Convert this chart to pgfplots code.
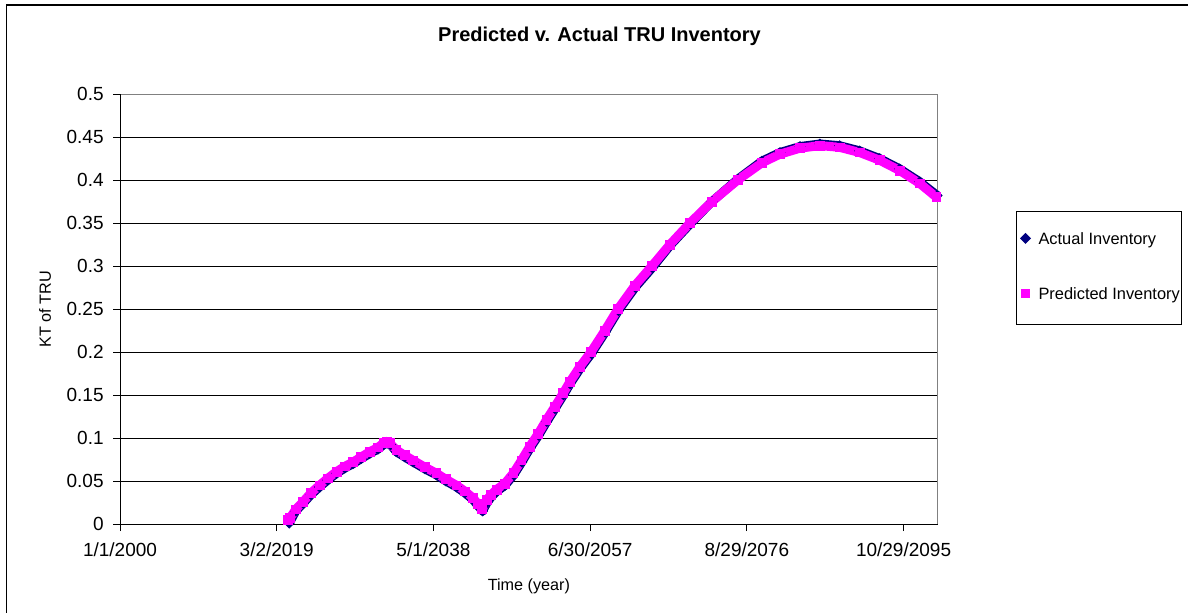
\documentclass[border=0pt]{standalone}
\usepackage{fontspec}
\setmainfont{Liberation Sans}
\usepackage{pgfplots}
\usepackage{pgfplotstable}
\pgfplotsset{compat=1.18}

\definecolor{actualnavy}{HTML}{000080}
\definecolor{predmagenta}{HTML}{FF00FF}

% decimal year, KT of TRU
\pgfplotstableread{
year inv
2020.70 0.001
2021.50 0.015
2022.40 0.024
2023.35 0.034
2024.40 0.043
2025.40 0.051
2026.50 0.059
2027.50 0.065
2028.50 0.070
2029.50 0.076
2030.55 0.082
2031.55 0.087
2032.20 0.092
2032.70 0.094
2033.10 0.092
2033.80 0.084
2034.80 0.078
2035.85 0.072
2037.30 0.064
2038.70 0.057
2039.85 0.050
2041.15 0.043
2042.20 0.036
2043.20 0.028
2043.80 0.021
2044.35 0.015
2044.90 0.025
2045.45 0.032
2046.10 0.038
2047.10 0.045
2048.15 0.057
2049.15 0.072
2050.15 0.088
2051.20 0.103
2052.20 0.119
2053.20 0.134
2054.25 0.150
2055.05 0.163
2056.30 0.181
2057.65 0.198
2059.35 0.223
2060.95 0.248
2063.00 0.275
2065.10 0.298
2067.30 0.324
2069.75 0.349
2072.40 0.375
2075.55 0.401
2078.50 0.422
2080.70 0.432
2083.15 0.439
2085.60 0.442
2088.00 0.440
2090.45 0.434
2092.90 0.425
2095.35 0.413
2097.80 0.398
2099.95 0.382
}\actual

\pgfplotstableread{
year inv
2020.55 0.005
2020.80 0.007
2021.50 0.017
2022.40 0.026
2023.35 0.036
2024.40 0.045
2025.40 0.053
2026.50 0.061
2027.50 0.067
2028.50 0.072
2029.50 0.078
2030.55 0.084
2031.55 0.089
2032.20 0.094
2032.60 0.096
2033.00 0.094
2033.80 0.086
2034.80 0.080
2035.85 0.074
2037.30 0.066
2038.70 0.059
2039.85 0.052
2041.15 0.045
2042.20 0.038
2043.20 0.030
2043.80 0.023
2044.30 0.017
2044.83 0.028
2045.40 0.034
2046.05 0.040
2047.05 0.047
2048.10 0.059
2049.10 0.074
2050.10 0.090
2051.15 0.105
2052.15 0.121
2053.15 0.136
2054.20 0.152
2055.00 0.165
2056.25 0.183
2057.60 0.200
2059.30 0.225
2060.90 0.250
2062.95 0.277
2065.05 0.300
2067.25 0.325
2069.70 0.350
2072.40 0.375
2075.55 0.400
2078.50 0.420
2080.70 0.430
2083.15 0.437
2085.60 0.440
2088.00 0.438
2090.45 0.432
2092.90 0.423
2095.35 0.411
2097.80 0.396
2099.85 0.380
}\predicted

\begin{document}
\begin{tikzpicture}
\useasboundingbox (0,0) rectangle (594pt,306pt);
% chart area frame (only its left and top edges fall inside the picture)
\draw[line width=0.8pt] (3.25pt,-5pt) -- (3.25pt,303.5pt) -- (605pt,303.5pt);
\begin{axis}[
    at={(60pt,44pt)}, anchor=south west,
    width=408.85pt, height=215pt, scale only axis,
    xmin=2000, xmax=2100,
    ymin=0, ymax=0.5,
    xtick={2000,2019.165,2038.330,2057.495,2076.660,2095.825},
    xticklabels={1/1/2000,3/2/2019,5/1/2038,6/30/2057,8/29/2076,10/29/2095},
    ytick={0,0.05,0.1,0.15,0.2,0.25,0.3,0.35,0.4,0.45,0.5},
    yticklabels={0,0.05,0.1,0.15,0.2,0.25,0.3,0.35,0.4,0.45,0.5},
    scaled ticks=false,
    ymajorgrids=true,
    grid style={black, line width=0.5pt},
    axis line style={draw=gray, line width=0.5pt},
    tick align=outside, tick pos=left,
    major tick length=3.5pt,
    tick style={black, line width=0.5pt},
    ticklabel style={font=\fontsize{9.5}{11}\selectfont, inner sep=0pt},
    xticklabel style={anchor=base, yshift=-12.5pt},
    yticklabel style={anchor=east, xshift=-4.5pt},
    clip=false,
    title={Predicted v. Actual TRU Inventory},
    every axis title/.style={at={(axis description cs:0.5864,1.133)}, anchor=center,
        font=\fontsize{10}{12}\selectfont\bfseries},
    xlabel={Time (year)},
    every axis x label/.style={at={(axis description cs:0.5,-0.144)}, anchor=center,
        font=\fontsize{8.1}{10}\selectfont},
    ylabel={KT of TRU},
    every axis y label/.style={at={(axis description cs:-0.0917,0.5)}, anchor=center,
        rotate=90, font=\fontsize{8.1}{10}\selectfont},
    legend style={at={(1.0958,0.7279)}, anchor=north west, draw=black, line width=0.5pt,
        font=\fontsize{8.2}{9}\selectfont, inner xsep=1pt, inner ysep=11pt,
        row sep=21pt, column sep=3pt,
        nodes={inner sep=0pt, text height=4.4pt, text depth=1.5pt}},
    legend cell align=left,
    legend image code/.code={\path[draw=none] (0pt,0pt) -- (7pt,0pt);
        \path[#1, draw=none] plot coordinates {(3.5pt,1.45pt)};},
]
\addplot[draw=actualnavy, line width=4.4pt, line join=round, forget plot] table[x=year, y=inv] {\actual};
\addplot[only marks, mark=square*, mark size=1.7pt, mark options={rotate=45, draw=actualnavy, fill=actualnavy}]
    table[x=year, y=inv] {\actual};
\addlegendentry{Actual Inventory}
\addplot[draw=predmagenta, line width=4.5pt, line join=round, forget plot] table[x=year, y=inv] {\predicted};
\addplot[only marks, mark=square*, mark size=2.2pt, mark options={draw=predmagenta, fill=predmagenta}]
    table[x=year, y=inv] {\predicted};
\addlegendentry{Predicted Inventory}
\draw[gray, line width=0.5pt] (rel axis cs:0,1) -- (rel axis cs:1,1) -- (rel axis cs:1,0);
\draw[black, line width=0.5pt] (rel axis cs:0,1) -- (rel axis cs:0,0) -- (rel axis cs:1,0);
\end{axis}
\end{tikzpicture}
\end{document}
